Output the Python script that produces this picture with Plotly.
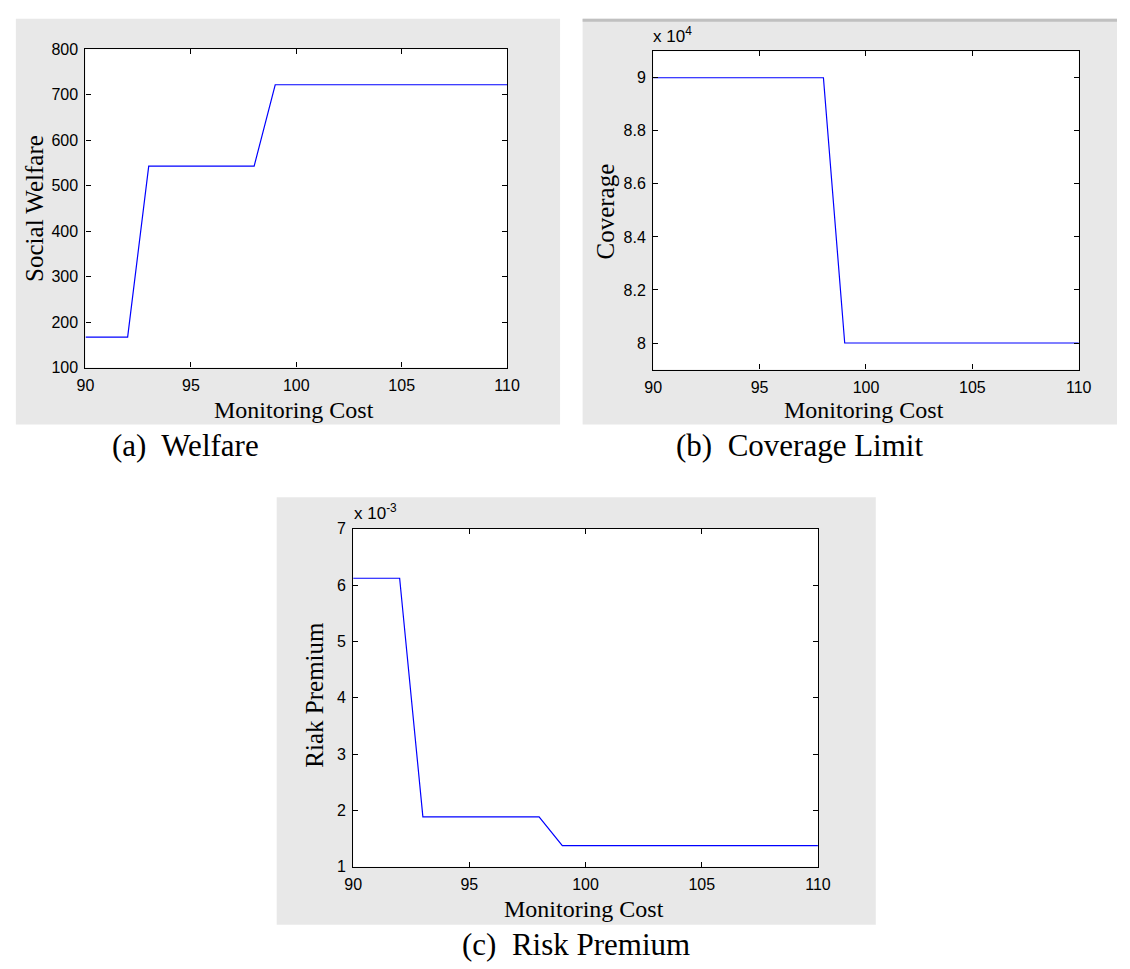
import plotly.graph_objects as go

# Monitoring cost grid shared by all three panels
monitoring_cost = [90, 91, 92, 93, 94, 95, 96, 97, 98, 99, 100, 101, 102, 103,
                   104, 105, 106, 107, 108, 109, 110]

social_welfare = [167, 167, 167, 543, 543, 543, 543, 543, 543, 722, 722, 722,
                  722, 722, 722, 722, 722, 722, 722, 722, 722]

coverage_limit = [90000, 90000, 90000, 90000, 90000, 90000, 90000, 90000, 90000,
                  80000, 80000, 80000, 80000, 80000, 80000, 80000, 80000, 80000,
                  80000, 80000, 80000]

risk_premium = [6.12e-3, 6.12e-3, 6.12e-3, 1.885e-3, 1.885e-3, 1.885e-3, 1.885e-3,
                1.885e-3, 1.885e-3, 1.375e-3, 1.375e-3, 1.375e-3, 1.375e-3, 1.375e-3,
                1.375e-3, 1.375e-3, 1.375e-3, 1.375e-3, 1.375e-3, 1.375e-3, 1.375e-3]

x_ticks = [90, 95, 100, 105, 110]
welfare_ticks = [100, 200, 300, 400, 500, 600, 700, 800]
coverage_ticks = [80000, 82000, 84000, 86000, 88000, 90000]
coverage_ticktext = ["8", "8.2", "8.4", "8.6", "8.8", "9"]
premium_ticks = [1e-3, 2e-3, 3e-3, 4e-3, 5e-3, 6e-3, 7e-3]
premium_ticktext = ["1", "2", "3", "4", "5", "6", "7"]

W, H = 1130, 969
SANS = "Liberation Sans, Arial, sans-serif"
SERIF = "Liberation Serif, Times New Roman, serif"
PANEL_GRAY = "#e8e8e8"


def px(x):
    return x / W


def py(y):
    return 1 - y / H


fig = go.Figure()

line_style = dict(color="#0000ff", width=1.2)
fig.add_trace(go.Scatter(x=monitoring_cost, y=social_welfare, mode="lines",
                         line=line_style, xaxis="x", yaxis="y", showlegend=False))
fig.add_trace(go.Scatter(x=monitoring_cost, y=coverage_limit, mode="lines",
                         line=line_style, xaxis="x2", yaxis="y2", showlegend=False))
fig.add_trace(go.Scatter(x=monitoring_cost, y=risk_premium, mode="lines",
                         line=line_style, xaxis="x3", yaxis="y3", showlegend=False))

axis_common = dict(
    showline=True, linecolor="black", linewidth=1.3, mirror="allticks",
    ticks="inside", ticklen=5, tickcolor="black", tickwidth=1,
    showgrid=False, zeroline=False,
    tickfont=dict(family=SANS, size=16, color="black"),
)

# panel pixel boxes: (left, top, right, bottom)
boxes = {
    "a": (78, 42, 508, 366),
    "b": (657, 44, 1091, 368),
    "c": (351, 530, 825, 874),
}

layout_axes = {}
for idx, key in zip(["", "2", "3"], ["a", "b", "c"]):
    l, t, r, b = boxes[key]
    layout_axes["xaxis" + idx] = dict(
        axis_common, domain=[px(l), px(r)], range=[90, 110],
        tickvals=x_ticks, anchor="y" + idx, ticklabelstandoff=3,
    )

layout_axes["yaxis"] = dict(axis_common, domain=[py(boxes["a"][3]), py(boxes["a"][1])],
                            range=[100, 800], tickvals=welfare_ticks, anchor="x",
                            ticklabelstandoff=3)
layout_axes["yaxis2"] = dict(axis_common, domain=[py(boxes["b"][3]), py(boxes["b"][1])],
                             range=[79000, 91000], tickvals=coverage_ticks,
                             ticktext=coverage_ticktext, anchor="x2",
                             ticklabelstandoff=3)
layout_axes["yaxis3"] = dict(axis_common, domain=[py(boxes["c"][3]), py(boxes["c"][1])],
                             range=[1e-3, 7e-3], tickvals=premium_ticks,
                             ticktext=premium_ticktext, anchor="x3",
                             ticklabelstandoff=3)

shapes = [
    # gray figure backgrounds
    dict(type="rect", xref="paper", yref="paper", x0=px(7), x1=px(562),
         y0=py(424), y1=py(11), fillcolor=PANEL_GRAY, line=dict(width=0), layer="below"),
    dict(type="rect", xref="paper", yref="paper", x0=px(585), x1=px(1130),
         y0=py(424), y1=py(11), fillcolor=PANEL_GRAY, line=dict(width=0), layer="below"),
    dict(type="rect", xref="paper", yref="paper", x0=px(585), x1=px(1130),
         y0=py(14), y1=py(11), fillcolor="#c0c0c0", line=dict(width=0), layer="below"),
    dict(type="rect", xref="paper", yref="paper", x0=px(273), x1=px(884),
         y0=py(933), y1=py(498), fillcolor=PANEL_GRAY, line=dict(width=0), layer="below"),
]
# white plotting areas
for key in ["a", "b", "c"]:
    l, t, r, b = boxes[key]
    shapes.append(dict(type="rect", xref="paper", yref="paper", x0=px(l), x1=px(r),
                       y0=py(b), y1=py(t), fillcolor="white", line=dict(width=0),
                       layer="below"))

annotations = []


def note(text, x, y, size, family=SERIF, angle=0, xanchor="center", yanchor="middle"):
    annotations.append(dict(text=text, x=px(x), y=py(y), xref="paper", yref="paper",
                            showarrow=False, textangle=angle, xanchor=xanchor,
                            yanchor=yanchor,
                            font=dict(family=family, size=size, color="black")))


# axis titles
note("Monitoring Cost", 291, 409, 24)
note("Monitoring Cost", 872, 409, 24)
note("Monitoring Cost", 586, 917, 24)
note("Social Welfare", 26, 204, 25, angle=-90)
note("Coverage", 608, 207, 25, angle=-90)
note("Riak Premium", 312, 699, 25, angle=-90)

# exponent labels
note("x 10<sup>4</sup>", 655, 27, 17, family=SANS, xanchor="left")
note("x 10<sup>-3</sup>", 350, 513, 17, family=SANS, xanchor="left")

# captions
note("(a)  Welfare", 180, 445, 31)
note("(b)  Coverage Limit", 806, 445, 31)
note("(c)  Risk Premium", 578, 953, 31)

fig.update_layout(
    width=W, height=H,
    margin=dict(l=0, r=0, t=0, b=0),
    paper_bgcolor="white", plot_bgcolor="rgba(0,0,0,0)",
    shapes=shapes, annotations=annotations,
    **layout_axes,
)

fig.write_html("out.html")
